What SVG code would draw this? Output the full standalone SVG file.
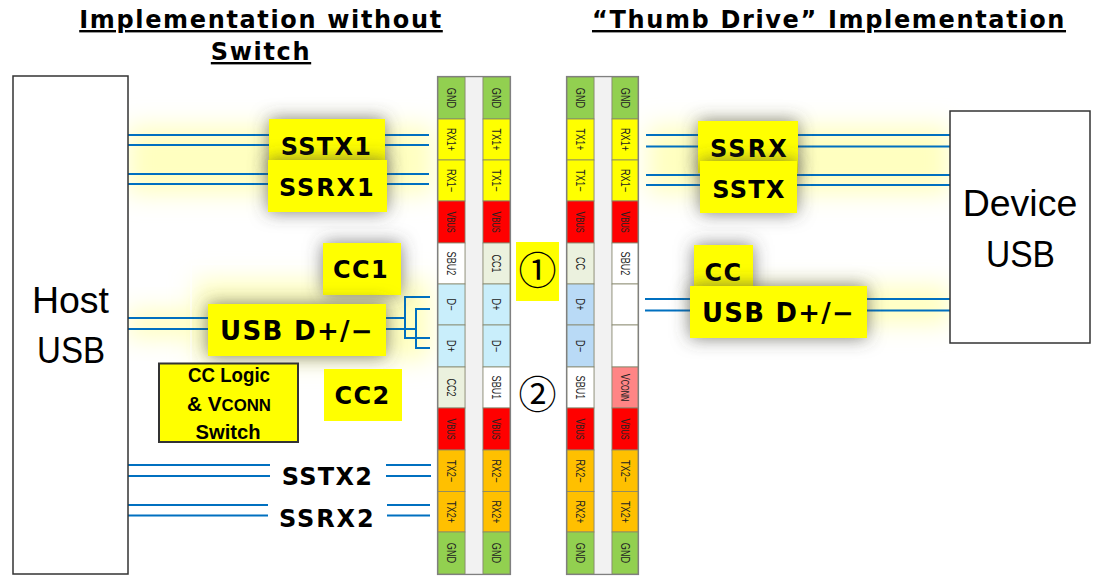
<svg xmlns="http://www.w3.org/2000/svg" width="1095" height="578" viewBox="0 0 1095 578">
<style>
.title{font:bold 24px "DejaVu Sans",sans-serif;fill:#000;text-decoration:underline;text-anchor:middle;letter-spacing:1.65px}
.lab{font:bold 24px "DejaVu Sans",sans-serif;fill:#000;text-anchor:middle;letter-spacing:1.3px}
.wide{font-size:26px}
.big{font:37.500px "Liberation Sans",sans-serif;fill:#000;text-anchor:middle}
.logic{font:bold 21px "Liberation Sans",sans-serif;fill:#000;text-anchor:middle}
.num{font:38px "Noto Sans CJK JP","DejaVu Sans",sans-serif;fill:#000;text-anchor:middle}
.pin{font:12.500px "Liberation Sans",sans-serif;fill:#222;text-anchor:middle}
.pin .s{font-size:10px}
.box{fill:#fff;stroke:#333;stroke-width:1.5}
.y{fill:#ff0}
.wire{stroke:#0070c0;stroke-width:2;fill:none}
.glow{fill:#ffffc0}
.c rect{stroke:#85856a;stroke-width:.8}
.g{fill:#92d050}.ye{fill:#ff0}.r{fill:#f00}.w{fill:#fff}.cr{fill:#ebf1de}.lb{fill:#c9eefb}.mb{fill:#b9daf6}.o{fill:#ffc000}.vc{fill:#ff8585}
.gap{fill:#f2f2f2;stroke:#c8c8c8;stroke-width:.8}
.frame{fill:none;stroke:#808080;stroke-width:1.2}
</style>
<defs>
<filter id="shadow" x="-40%" y="-60%" width="180%" height="220%"><feDropShadow dx="0" dy="0" stdDeviation="9" flood-color="#444" flood-opacity=".7"/></filter>
<filter id="blur" x="-20%" y="-80%" width="140%" height="260%"><feGaussianBlur stdDeviation="12"/></filter>
</defs>
<rect width="1095" height="578" fill="#fff"/>

<g id="glows">
<rect class="glow" x="128" y="126" width="305" height="68" filter="url(#blur)"/>
<rect class="glow" x="195" y="280" width="235" height="80" filter="url(#blur)"/>
<rect class="glow" x="128" y="310" width="90" height="28" filter="url(#blur)"/>
<rect class="glow" x="648" y="126" width="302" height="68" filter="url(#blur)"/>
<rect class="glow" x="700" y="286" width="250" height="38" filter="url(#blur)"/>
<path d="M191 400V264H430M650 265H950" fill="none" stroke="#fff" stroke-width="1"/>
</g>

<g id="connectors">
<path class="wire" d="M128 135H429M128 145H429M128 174H429M128 184H429"/>
<path class="wire" d="M128 318H405M128 329H416M430 297H405V338H430M430 309H416V348H430"/>
<path class="wire" d="M128 465H270M128 476H270M386 465H431M386 476H431M128 505H268M128 515.500H268M387 505H430M387 515.500H430"/>
<path class="wire" d="M646 135H950M646 146.500H950M646 175H950M646 185H950M645 299H950M645 310.500H950"/>
</g>

<g id="host-usb"><rect class="box" x="13" y="76" width="115" height="498"/>
<text class="big" x="70.500" y="313">Host</text><text class="big" x="71" y="363" textLength="68" lengthAdjust="spacingAndGlyphs">USB</text></g>
<g id="device-usb"><rect class="box" x="950" y="111" width="140" height="232"/>
<text class="big" x="1020" y="216">Device</text><text class="big" x="1020.500" y="267" textLength="69" lengthAdjust="spacingAndGlyphs">USB</text></g>

<g id="label-sstx1"><rect class="y" x="269" y="119" width="116" height="52" filter="url(#shadow)"/><text class="lab" x="326.500" y="155">SSTX1</text></g>
<g id="label-ssrx1"><rect class="y" x="268" y="160" width="119" height="52" filter="url(#shadow)"/><text class="lab" x="327" y="196" textLength="96">SSRX1</text></g>
<g id="label-cc1"><rect class="y" x="323" y="243" width="78" height="52" filter="url(#shadow)"/><text class="lab" x="361" y="278">CC1</text></g>
<g id="label-usb-left"><rect class="y" x="208" y="304" width="178" height="52" filter="url(#shadow)"/><text class="lab wide" x="297" y="340" textLength="154" lengthAdjust="spacingAndGlyphs">USB D+/−</text></g>
<g id="cc-logic"><rect x="159" y="363.500" width="139" height="78.500" fill="#ff0" stroke="#333" stroke-width="2"/>
<text class="logic" x="229" y="382" textLength="82" lengthAdjust="spacingAndGlyphs">CC Logic</text>
<text class="logic" x="229" y="411" textLength="84" lengthAdjust="spacingAndGlyphs">&amp; V<tspan font-size="17">CONN</tspan></text>
<text class="logic" x="228" y="439" textLength="65" lengthAdjust="spacingAndGlyphs">Switch</text></g>
<g id="label-cc2"><rect class="y" x="324" y="369" width="78" height="52"/><text class="lab" x="362.500" y="404">CC2</text></g>
<g id="label-sstx2"><text class="lab" x="327.500" y="485">SSTX2</text></g>
<g id="label-ssrx2"><text class="lab" x="327" y="527" textLength="96">SSRX2</text></g>

<g id="label-ssrx"><rect class="y" x="698" y="121" width="100" height="52" filter="url(#shadow)"/><text class="lab" x="749" y="157" textLength="78">SSRX</text></g>
<g id="label-sstx"><rect class="y" x="700" y="161" width="97" height="52" filter="url(#shadow)"/><text class="lab" x="749" y="198">SSTX</text></g>
<g id="label-cc"><rect class="y" x="694" y="245" width="59" height="52" filter="url(#shadow)"/><text class="lab" x="723.500" y="281">CC</text></g>
<g id="label-usb-right"><rect class="y" x="690" y="286" width="177" height="52" filter="url(#shadow)"/><text class="lab wide" x="778.500" y="322" textLength="153" lengthAdjust="spacingAndGlyphs">USB D+/−</text></g>

<g id="marker-1"><rect class="y" x="516" y="242" width="43" height="59"/><text class="num" x="537.500" y="284">①</text></g>
<g id="marker-2"><text class="num" x="537.500" y="408">②</text></g>

<g id="gaps">
<rect class="gap" x="465" y="77" width="18" height="497"/>
<rect class="gap" x="594" y="77" width="18" height="497"/>
</g>

<g id="receptacle-a" class="c">
<rect class="g" x="438" y="77" width="27" height="42"/><rect class="ye" x="438" y="119" width="27" height="41"/><rect class="ye" x="438" y="160" width="27" height="41"/><rect class="r" x="438" y="201" width="27" height="42"/><rect class="w" x="438" y="243" width="27" height="41"/><rect class="lb" x="438" y="284" width="27" height="41"/><rect class="lb" x="438" y="325" width="27" height="42"/><rect class="cr" x="438" y="367" width="27" height="41"/><rect class="r" x="438" y="408" width="27" height="42"/><rect class="o" x="438" y="450" width="27" height="41.500"/><rect class="o" x="438" y="491.500" width="27" height="40.500"/><rect class="g" x="438" y="532" width="27" height="42"/>
</g>
<g id="receptacle-b" class="c">
<rect class="g" x="483" y="77" width="27" height="42"/><rect class="ye" x="483" y="119" width="27" height="41"/><rect class="ye" x="483" y="160" width="27" height="41"/><rect class="r" x="483" y="201" width="27" height="42"/><rect class="cr" x="483" y="243" width="27" height="41"/><rect class="lb" x="483" y="284" width="27" height="41"/><rect class="lb" x="483" y="325" width="27" height="42"/><rect class="w" x="483" y="367" width="27" height="41"/><rect class="r" x="483" y="408" width="27" height="42"/><rect class="o" x="483" y="450" width="27" height="41.500"/><rect class="o" x="483" y="491.500" width="27" height="40.500"/><rect class="g" x="483" y="532" width="27" height="42"/>
</g>
<g id="plug-c" class="c">
<rect class="g" x="567" y="77" width="27" height="42"/><rect class="ye" x="567" y="119" width="27" height="41"/><rect class="ye" x="567" y="160" width="27" height="41"/><rect class="r" x="567" y="201" width="27" height="42"/><rect class="cr" x="567" y="243" width="27" height="41"/><rect class="mb" x="567" y="284" width="27" height="41"/><rect class="mb" x="567" y="325" width="27" height="42"/><rect class="w" x="567" y="367" width="27" height="41"/><rect class="r" x="567" y="408" width="27" height="42"/><rect class="o" x="567" y="450" width="27" height="41.500"/><rect class="o" x="567" y="491.500" width="27" height="40.500"/><rect class="g" x="567" y="532" width="27" height="42"/>
</g>
<g id="plug-d" class="c">
<rect class="g" x="612" y="77" width="26" height="42"/><rect class="ye" x="612" y="119" width="26" height="41"/><rect class="ye" x="612" y="160" width="26" height="41"/><rect class="r" x="612" y="201" width="26" height="42"/><rect class="w" x="612" y="243" width="26" height="41"/><rect class="w" x="612" y="284" width="26" height="41"/><rect class="w" x="612" y="325" width="26" height="42"/><rect class="vc" x="612" y="367" width="26" height="41"/><rect class="r" x="612" y="408" width="26" height="42"/><rect class="o" x="612" y="450" width="26" height="41.500"/><rect class="o" x="612" y="491.500" width="26" height="40.500"/><rect class="g" x="612" y="532" width="26" height="42"/>
</g>

<g id="pin-labels-a" class="pin">
<text transform="translate(446.500,98) rotate(90) scale(.73,1)">GND</text><text transform="translate(446.500,139.500) rotate(90) scale(.73,1)">RX1+</text><text transform="translate(446.500,180.500) rotate(90) scale(.73,1)">RX1−</text><text transform="translate(446.500,222) rotate(90) scale(.73,1)">V<tspan class="s">BUS</tspan></text><text transform="translate(446.500,263.500) rotate(90) scale(.73,1)">SBU2</text><text transform="translate(446.500,304.500) rotate(90) scale(.73,1)">D−</text><text transform="translate(446.500,346) rotate(90) scale(.73,1)">D+</text><text transform="translate(446.500,387.500) rotate(90) scale(.73,1)">CC2</text><text transform="translate(446.500,429) rotate(90) scale(.73,1)">V<tspan class="s">BUS</tspan></text><text transform="translate(446.500,471) rotate(90) scale(.73,1)">TX2−</text><text transform="translate(446.500,512) rotate(90) scale(.73,1)">TX2+</text><text transform="translate(446.500,553) rotate(90) scale(.73,1)">GND</text>
</g>
<g id="pin-labels-b" class="pin">
<text transform="translate(492,98) rotate(90) scale(.73,1)">GND</text><text transform="translate(492,139.500) rotate(90) scale(.73,1)">TX1+</text><text transform="translate(492,180.500) rotate(90) scale(.73,1)">TX1−</text><text transform="translate(492,222) rotate(90) scale(.73,1)">V<tspan class="s">BUS</tspan></text><text transform="translate(492,263.500) rotate(90) scale(.73,1)">CC1</text><text transform="translate(492,304.500) rotate(90) scale(.73,1)">D+</text><text transform="translate(492,346) rotate(90) scale(.73,1)">D−</text><text transform="translate(492,387.500) rotate(90) scale(.73,1)">SBU1</text><text transform="translate(492,429) rotate(90) scale(.73,1)">V<tspan class="s">BUS</tspan></text><text transform="translate(492,471) rotate(90) scale(.73,1)">RX2−</text><text transform="translate(492,512) rotate(90) scale(.73,1)">RX2+</text><text transform="translate(492,553) rotate(90) scale(.73,1)">GND</text>
</g>
<g id="pin-labels-c" class="pin">
<text transform="translate(576,98) rotate(90) scale(.73,1)">GND</text><text transform="translate(576,139.500) rotate(90) scale(.73,1)">TX1+</text><text transform="translate(576,180.500) rotate(90) scale(.73,1)">TX1−</text><text transform="translate(576,222) rotate(90) scale(.73,1)">V<tspan class="s">BUS</tspan></text><text transform="translate(576,263.500) rotate(90) scale(.73,1)">CC</text><text transform="translate(576,304.500) rotate(90) scale(.73,1)">D+</text><text transform="translate(576,346) rotate(90) scale(.73,1)">D−</text><text transform="translate(576,387.500) rotate(90) scale(.73,1)">SBU1</text><text transform="translate(576,429) rotate(90) scale(.73,1)">V<tspan class="s">BUS</tspan></text><text transform="translate(576,471) rotate(90) scale(.73,1)">RX2−</text><text transform="translate(576,512) rotate(90) scale(.73,1)">RX2+</text><text transform="translate(576,553) rotate(90) scale(.73,1)">GND</text>
</g>
<g id="pin-labels-d" class="pin">
<text transform="translate(620.500,98) rotate(90) scale(.73,1)">GND</text><text transform="translate(620.500,139.500) rotate(90) scale(.73,1)">RX1+</text><text transform="translate(620.500,180.500) rotate(90) scale(.73,1)">RX1−</text><text transform="translate(620.500,222) rotate(90) scale(.73,1)">V<tspan class="s">BUS</tspan></text><text transform="translate(620.500,263.500) rotate(90) scale(.73,1)">SBU2</text><text transform="translate(620.500,387.500) rotate(90) scale(.73,1)">V<tspan class="s">CONN</tspan></text><text transform="translate(620.500,429) rotate(90) scale(.73,1)">V<tspan class="s">BUS</tspan></text><text transform="translate(620.500,471) rotate(90) scale(.73,1)">TX2−</text><text transform="translate(620.500,512) rotate(90) scale(.73,1)">TX2+</text><text transform="translate(620.500,553) rotate(90) scale(.73,1)">GND</text>
</g>
<g id="frames">
<rect class="frame" x="437.500" y="76.500" width="73" height="498"/>
<rect class="frame" x="566.500" y="76.500" width="72" height="498"/>
</g>

<g id="titles">
<text class="title" x="261" y="28">Implementation without</text>
<text class="title" x="261" y="60">Switch</text>
<text class="title" x="829" y="28">“Thumb Drive” Implementation</text>
</g>
</svg>
